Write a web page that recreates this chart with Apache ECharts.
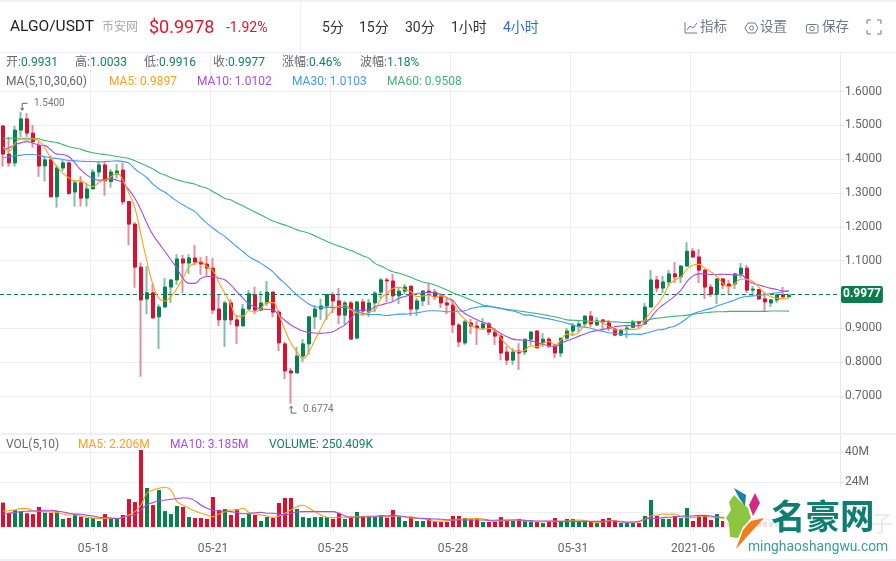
<!DOCTYPE html>
<html><head><meta charset="utf-8">
<script src="https://cdn.jsdelivr.net/npm/echarts@6/dist/echarts.min.js"></script>
<style>html,body{margin:0;padding:0;background:#fff}#c{width:896px;height:561px}</style></head>
<body><div id="c"></div>
<script>
const opens=[1.498,1.415,1.389,1.486,1.519,1.477,1.440,1.380,1.398,1.289,
1.374,1.389,1.303,1.330,1.285,1.312,1.362,1.383,1.334,1.356,
1.368,1.275,1.208,1.081,0.987,1.005,0.934,0.963,1.022,1.043,
1.105,1.093,1.108,1.096,1.090,1.078,0.957,0.925,0.975,0.925,
0.907,0.957,1.000,0.954,0.975,1.007,0.948,0.854,0.774,0.768,
0.818,0.854,0.934,0.957,0.966,1.000,0.981,0.939,0.975,0.871,
0.978,0.948,0.975,1.007,1.043,1.040,0.996,1.010,1.025,0.957,
0.981,1.010,1.007,0.996,0.975,0.969,0.910,0.857,0.916,0.907,
0.901,0.913,0.889,0.877,0.830,0.806,0.833,0.830,0.868,0.892,
0.857,0.868,0.848,0.827,0.871,0.892,0.907,0.913,0.936,0.910,
0.925,0.916,0.898,0.880,0.898,0.903,0.919,0.913,0.963,1.043,
1.019,1.037,1.061,1.052,1.084,1.128,1.111,1.072,1.022,1.001,
1.046,1.031,1.031,1.061,1.078,1.013,1.015,0.987,0.975,0.984,
0.999,0.9931];
const closes=[1.415,1.389,1.486,1.519,1.477,1.452,1.380,1.398,1.289,1.374,
1.389,1.299,1.330,1.285,1.312,1.362,1.383,1.336,1.362,1.365,
1.274,1.208,1.081,0.984,1.005,0.931,0.963,1.022,1.043,1.105,
1.093,1.108,1.096,1.090,1.078,0.954,0.925,0.975,0.925,0.907,
0.957,1.002,0.954,0.975,1.007,0.948,0.857,0.774,0.768,0.818,
0.854,0.934,0.957,0.966,1.000,0.981,0.939,0.975,0.868,0.978,
0.951,0.975,1.004,1.043,1.040,0.996,1.010,1.022,0.957,0.981,
1.010,1.007,0.995,0.975,0.969,0.910,0.860,0.919,0.907,0.901,
0.913,0.889,0.877,0.827,0.806,0.830,0.827,0.868,0.889,0.842,
0.868,0.848,0.827,0.871,0.892,0.907,0.913,0.936,0.913,0.922,
0.919,0.901,0.880,0.895,0.901,0.919,0.915,0.963,1.043,1.019,
1.037,1.061,1.052,1.084,1.128,1.111,1.072,1.022,1.001,1.046,
1.028,1.025,1.061,1.078,1.013,1.016,0.987,0.978,0.984,0.999,
0.993,0.9977];
const lows=[1.378,1.378,1.378,1.466,1.466,1.434,1.348,1.334,1.286,1.257,
1.365,1.294,1.260,1.260,1.260,1.312,1.348,1.292,1.316,1.343,
1.265,1.146,1.020,0.757,0.942,0.928,0.839,0.961,0.975,1.028,
1.005,1.061,1.087,1.058,1.055,0.942,0.907,0.845,0.910,0.854,
0.907,0.954,0.942,0.951,0.966,0.933,0.833,0.750,0.6774,0.768,
0.800,0.821,0.898,0.925,0.925,0.945,0.913,0.910,0.868,0.868,
0.939,0.933,0.948,0.987,0.978,0.981,0.972,1.001,0.936,0.936,
0.966,0.969,0.984,0.960,0.942,0.886,0.845,0.851,0.883,0.851,
0.898,0.880,0.851,0.806,0.792,0.792,0.777,0.821,0.851,0.842,
0.845,0.842,0.812,0.815,0.865,0.877,0.889,0.904,0.904,0.907,
0.895,0.892,0.877,0.877,0.871,0.901,0.901,0.910,0.960,1.007,
1.004,1.022,1.034,1.034,1.084,1.108,1.034,0.987,0.993,0.972,
1.016,1.001,1.016,1.049,1.004,0.996,0.984,0.951,0.963,0.975,
0.990,0.9916];
const highs=[1.501,1.466,1.498,1.540,1.536,1.501,1.452,1.407,1.410,1.383,
1.398,1.393,1.339,1.350,1.329,1.371,1.393,1.395,1.371,1.386,
1.390,1.276,1.214,1.095,1.084,1.031,0.971,1.049,1.046,1.119,
1.117,1.119,1.146,1.111,1.114,1.108,0.999,0.981,0.986,0.940,
0.972,1.013,1.023,1.010,1.040,1.010,0.954,0.860,0.783,0.845,
0.868,0.936,0.969,0.987,1.002,1.007,1.019,0.981,0.981,0.981,
0.987,0.987,1.010,1.049,1.049,1.061,1.022,1.031,1.025,0.990,
1.013,1.033,1.016,1.003,0.987,0.984,0.915,0.925,0.928,0.922,
0.930,0.919,0.901,0.883,0.848,0.842,0.856,0.868,0.892,0.895,
0.886,0.874,0.854,0.871,0.901,0.916,0.922,0.939,0.951,0.933,
0.925,0.925,0.901,0.898,0.907,0.925,0.922,0.975,1.072,1.055,
1.055,1.072,1.096,1.087,1.155,1.137,1.134,1.075,1.031,1.049,
1.049,1.043,1.064,1.093,1.087,1.025,1.015,1.007,0.987,0.999,
1.022,1.0033];
const ma5=[1.437,1.424,1.447,1.460,1.457,1.460,1.454,1.432,1.402,1.378,
1.358,1.345,1.336,1.336,1.326,1.319,1.332,1.338,1.348,1.358,
1.338,1.299,1.255,1.176,1.097,1.028,0.989,0.981,0.994,1.018,
1.048,1.082,1.092,1.097,1.082,1.070,1.035,1.003,0.969,0.936,
0.936,0.952,0.949,0.959,0.976,0.976,0.939,0.895,0.856,0.831,
0.811,0.831,0.866,0.900,0.933,0.954,0.966,0.969,0.954,0.946,
0.939,0.949,0.954,0.989,1.003,1.018,1.021,1.015,1.008,0.994,
0.996,0.998,0.991,0.996,0.992,0.974,0.944,0.927,0.910,0.900,
0.897,0.900,0.892,0.870,0.851,0.836,0.831,0.836,0.848,0.846,
0.856,0.861,0.851,0.865,0.883,0.880,0.890,0.910,0.920,0.920,
0.915,0.905,0.895,0.895,0.897,0.897,0.899,0.925,0.949,0.969,
0.994,1.028,1.043,1.053,1.074,1.087,1.089,1.077,1.067,1.053,
1.033,1.023,1.033,1.045,1.045,1.038,1.021,1.003,0.994,0.989,
0.987,0.9897];
const ma10=[1.429,1.434,1.442,1.449,1.452,1.447,1.442,1.440,1.427,1.415,
1.414,1.407,1.388,1.368,1.353,1.343,1.338,1.340,1.341,1.338,
1.329,1.309,1.284,1.250,1.210,1.176,1.151,1.127,1.102,1.077,
1.048,1.033,1.033,1.048,1.053,1.053,1.048,1.043,1.028,1.008,
0.989,0.972,0.964,0.957,0.956,0.954,0.939,0.923,0.910,0.900,
0.892,0.888,0.886,0.885,0.887,0.890,0.900,0.910,0.929,0.949,
0.954,0.954,0.964,0.969,0.974,0.979,0.989,0.994,0.999,1.003,
1.005,1.006,1.005,1.000,0.989,0.982,0.959,0.944,0.934,0.925,
0.918,0.910,0.895,0.885,0.875,0.868,0.866,0.865,0.863,0.858,
0.853,0.848,0.846,0.856,0.863,0.870,0.877,0.883,0.890,0.893,
0.897,0.900,0.905,0.907,0.908,0.908,0.908,0.915,0.932,0.954,
0.969,0.982,0.996,1.013,1.038,1.055,1.061,1.061,1.059,1.059,
1.060,1.059,1.058,1.058,1.043,1.033,1.028,1.023,1.018,1.015,
1.010,1.0102];
const ma30=[1.404,1.407,1.410,1.412,1.414,1.414,1.411,1.407,1.404,1.402,
1.399,1.396,1.395,1.394,1.393,1.393,1.392,1.393,1.394,1.395,
1.393,1.388,1.371,1.358,1.345,1.326,1.312,1.302,1.289,1.276,
1.265,1.255,1.245,1.227,1.210,1.196,1.183,1.171,1.156,1.141,
1.127,1.112,1.102,1.092,1.080,1.067,1.048,1.033,1.015,0.998,
0.984,0.972,0.964,0.962,0.962,0.962,0.962,0.962,0.956,0.951,
0.944,0.941,0.941,0.940,0.938,0.940,0.942,0.942,0.944,0.946,
0.949,0.952,0.952,0.951,0.949,0.949,0.951,0.952,0.959,0.962,
0.965,0.964,0.962,0.959,0.954,0.951,0.946,0.939,0.939,0.934,
0.931,0.928,0.924,0.920,0.915,0.910,0.905,0.903,0.900,0.895,
0.891,0.887,0.885,0.883,0.882,0.883,0.882,0.885,0.890,0.895,
0.897,0.902,0.907,0.917,0.930,0.942,0.949,0.954,0.959,0.966,
0.972,0.978,0.984,0.991,0.994,0.996,0.997,1.000,1.003,1.005,
1.008,1.0103];
const ma60=[1.462,1.462,1.462,1.462,1.462,1.462,1.460,1.455,1.452,1.449,
1.443,1.437,1.433,1.429,1.423,1.419,1.416,1.414,1.411,1.408,
1.405,1.402,1.395,1.387,1.380,1.371,1.360,1.353,1.345,1.339,
1.334,1.330,1.326,1.319,1.314,1.304,1.294,1.284,1.279,1.270,
1.262,1.253,1.244,1.235,1.226,1.217,1.211,1.205,1.199,1.191,
1.186,1.181,1.173,1.165,1.157,1.149,1.143,1.137,1.130,1.122,
1.114,1.107,1.092,1.084,1.075,1.067,1.063,1.057,1.051,1.043,
1.037,1.033,1.028,1.021,1.013,1.005,0.998,0.991,0.984,0.976,
0.969,0.966,0.962,0.959,0.956,0.954,0.951,0.949,0.946,0.944,
0.941,0.937,0.934,0.930,0.925,0.924,0.923,0.922,0.921,0.921,
0.921,0.920,0.919,0.918,0.917,0.918,0.920,0.922,0.927,0.930,
0.932,0.934,0.936,0.937,0.939,0.942,0.944,0.946,0.948,0.949,
0.949,0.950,0.950,0.950,0.950,0.950,0.950,0.950,0.951,0.951,
0.951,0.9508];
const volumes=[13.0,7.6,9.1,8.2,7.3,6.9,10.7,7.6,7.6,8.5,
4.3,4.8,6.9,5.5,4.8,4.8,3.2,6.9,4.8,4.4,
6.4,14.9,13.3,41.1,20.8,11.7,19.7,8.5,6.9,11.2,
10.7,5.3,4.8,4.8,4.3,16.0,9.1,9.6,6.4,9.6,
4.8,6.9,6.4,3.2,5.3,4.8,12.8,15.5,15.5,9.6,
5.3,4.8,5.3,5.3,5.3,4.3,7.5,4.3,5.0,8.0,
5.5,5.9,5.3,6.4,5.0,9.1,5.5,3.2,5.5,3.2,
3.2,4.3,3.2,2.7,2.7,5.9,5.9,4.8,4.1,4.1,
2.7,2.7,2.7,5.3,3.7,3.2,4.3,3.4,2.7,2.7,
2.1,2.7,4.8,2.7,4.3,4.3,3.2,2.7,2.7,2.1,
4.3,4.8,3.2,2.1,2.1,2.1,2.1,5.9,14.4,5.9,
4.3,4.3,5.9,4.8,10.1,3.2,5.9,5.9,3.7,6.9,
3.2,2.7,3.2,3.7,3.7,2.7,3.7,2.7,2.7,2.1,
2.7,0.25];
const volMa5=[8.5,8.7,9.1,9.8,9.8,8.7,8.4,8.2,8.2,7.8,
6.9,6.4,6.4,5.9,5.2,4.8,4.6,4.6,4.6,4.6,
5.2,6.4,8.2,11.7,18,19.7,20.6,21.2,19.7,13.5,
11.7,10,8.5,7.3,6.4,5.5,6.9,8.2,9.1,9.1,
10,7.8,6.9,6.4,5.9,5.2,5.9,7.3,9.1,10.8,
11.6,10,8.2,6.4,5.2,5,5.2,5.2,5.5,5.5,
5.7,5.7,5.9,5.9,5.7,5.9,5.7,5.3,4.8,4.6,
4.3,3.7,3,3.2,3.4,3.7,4.1,4.3,4.4,4.6,
4.3,3.6,3,3.4,3.4,3.7,3.6,3.2,3,2.8,
2.8,3,3,3,3.2,3.6,3.7,3.4,2.8,2.5,
2.8,3.4,3.4,3,2.7,2.5,2.8,4.1,5.9,6.4,
6.9,6.8,6.9,5.5,5.2,5,5.5,5.9,5.3,5.2,
4.6,4.3,4,3.8,3.5,3.3,3.3,3.3,3.2,3,
2.6,2.206];
const volMa10=[6.9,7.3,7.8,8.2,8.4,8.5,8.5,8.9,8.9,8.5,
8,7.3,6.9,6.8,6.2,5.9,5.2,5,4.8,4.4,
5.2,5.9,6.4,9.1,11.7,13,14,14.4,14.8,15.1,
15.6,15.3,14,11.7,10,8.9,8.5,8.4,8.2,7.6,
7.1,7.3,7.6,7.8,7.3,7.3,6.8,6.4,7.3,8,
8.2,8.2,8.2,8.2,8.2,8.2,7.3,5.9,5.2,5.2,
5.3,5.3,5.5,6,5.9,6.2,5.9,5.5,5.2,4.8,
4.6,4.4,4.3,4.1,3.9,3.7,3.7,3.7,3.7,3.7,
3.7,3.6,3.6,3.7,3.7,3.7,3.7,3.6,3.4,3.2,
3.2,3.2,3.2,3,3,3,3,3,3,3,
3,3.2,3.2,2.7,2.5,2.7,3,4.3,4.6,4.6,
5,5.2,5.5,5.7,5.9,5.9,6.2,6.2,5.9,5.3,
5.2,5.2,5.2,5.2,5,4.8,4.5,4.2,3.9,3.6,
3.4,3.185];
const tickLabels=['05-18','05-21','05-25','05-28','05-31','2021-06'];
const tickIndex=[15,35,55,75,95,115];
const priceTicks=[0.7,0.8,0.9,1.0,1.1,1.2,1.3,1.4,1.5,1.6];
const volTicks=[8,24,40];

const RED='#d9102f',GREEN='#07824f',PALE_RED='#e98a9b',PALE_GREEN='#7cc0a5';
const GRID='#eceef4',AXT='#666';
const FONT='Roboto,"Noto Sans CJK SC",sans-serif';
const categories=Array.from({length:140},(_,i)=>{const k=tickIndex.indexOf(i);return k>=0?tickLabels[k]:''+i;});
const isTick=i=>tickIndex.includes(i);
const candles=opens.map((o,i)=>[o,closes[i],lows[i],highs[i]]);
const bodies=opens.map((o,i)=>[o,closes[i],Math.min(o,closes[i]),Math.max(o,closes[i])]);
const vols=volumes.map((v,i)=>({value:v,itemStyle:{color:closes[i]>=opens[i]?GREEN:RED}}));

function T(x,y,text,size,color,extra){return {type:'text',z:50,x:x,y:y,style:Object.assign({text:text,fontSize:size,fill:color,fontFamily:FONT,verticalAlign:'middle',align:'left'},extra||{})};}
function L(pts,color,w){return {type:'polyline',z:50,shape:{points:pts},style:{stroke:color||'#70798a',fill:'none',lineWidth:w||1}};}
const LBL='#666',VAL='#13835c',ORG='#ff9f1a',PUR='#a84ce2',BLU='#3d9aff',GRN='#3fb573';
const gfx=[
 {type:'rect',z:1,shape:{x:0,y:0,width:896,height:2},style:{fill:'#eef0f5'}},
 {type:'rect',z:1,shape:{x:0,y:52,width:896,height:1},style:{fill:'#eceef4'}},
 {type:'rect',z:1,shape:{x:300,y:2,width:1,height:50},style:{fill:'#eef0f5'}},
 {type:'rect',z:1,shape:{x:0,y:433,width:896,height:2},style:{fill:'#eef0f5'}},
 {type:'rect',z:1,shape:{x:0,y:559,width:896,height:2},style:{fill:'#eef0f5'}},
 T(10,27,'ALGO/USDT',15.5,'#222'),
 T(102,28,'币安网',12,'#aaa'),
 T(149,28,'$0.9978',18,'#e0162f'),
 T(226,28,'-1.92%',14,'#e0162f'),
 T(322,28,'5分',14,'#333'),T(359,28,'15分',14,'#333'),T(405,28,'30分',14,'#333'),
 T(451,28,'1小时',14,'#333'),T(503,28,'4小时',14,'#2f6fe0'),
 L([[685,22],[685,33],[697,33]]),L([[687,30],[690,26],[693,28],[697,23]]),
 T(700,28,'指标',13.5,'#70798a'),
 {type:'polygon',z:50,shape:{points:[[748,23],[755,23],[758,28],[755,33],[748,33],[745,28]]},style:{stroke:'#70798a',fill:'none'}},
 {type:'circle',z:50,shape:{cx:751.5,cy:28,r:2},style:{stroke:'#70798a',fill:'none'}},
 T(760,28,'设置',13.5,'#70798a'),
 {type:'rect',z:50,shape:{x:806.5,y:24.5,width:11.5,height:8.5,r:1.5},style:{stroke:'#70798a',fill:'none'}},
 {type:'circle',z:50,shape:{cx:812,cy:28.5,r:2.3},style:{stroke:'#70798a',fill:'none'}},
 T(822,28,'保存',13.5,'#70798a'),
 L([[867,24],[867,20],[871,20]]),L([[877,20],[881,20],[881,24]]),L([[867,30],[867,34],[871,34]]),L([[877,34],[881,34],[881,30]]),
 T(6,63,'开:',12,LBL),T(21,63,'0.9931',12,VAL),
 T(75,63,'高:',12,LBL),T(90,63,'1.0033',12,VAL),
 T(144,63,'低:',12,LBL),T(159,63,'0.9916',12,VAL),
 T(213,63,'收:',12,LBL),T(228,63,'0.9977',12,VAL),
 T(282,63,'涨幅:',12,LBL),T(309,63,'0.46%',12,VAL),
 T(360,63,'波幅:',12,LBL),T(387,63,'1.18%',12,VAL),
 T(6,82,'MA(5,10,30,60)',12,LBL),
 T(109,82,'MA5: 0.9897',12,ORG),T(197,82,'MA10: 1.0102',12,PUR),
 T(292,82,'MA30: 1.0103',12,BLU),T(387,82,'MA60: 0.9508',12,GRN),
 T(6,445,'VOL(5,10)',12,LBL),T(78,445,'MA5: 2.206M',12,ORG),
 T(170,445,'MA10: 3.185M',12,PUR),T(269,445,'VOLUME: 250.409K',12,VAL),
 // watermark
 {type:'rect',z:90,shape:{x:724,y:487,width:172,height:72},style:{fill:'rgba(255,255,255,0.86)'}},
 {type:'text',z:90,x:871,y:523,style:{text:'子',fontSize:22,fill:'#e9e9e9',fontFamily:'"Noto Sans CJK SC"',verticalAlign:'middle'}},
 {type:'polygon',z:91,smooth:0.25,shape:{points:[[734,495],[729,502],[731,510],[726,518],[729,523],[730,537],[738,538],[743,527],[751,518],[748,508],[741,502]]},style:{fill:'#8cc63f'}},
 {type:'polygon',z:91,shape:{points:[[734,488],[746,495],[745,506],[739,498]]},style:{fill:'#1c7fa6'}},
 {type:'polygon',z:91,shape:{points:[[755,493],[760,503],[753,516],[749,505]]},style:{fill:'#d42a80'}},
 {type:'polygon',z:91,shape:{points:[[764,518],[753,530],[736,549],[743,530],[751,521]]},style:{fill:'#ee7d1c'}},
 {type:'text',z:91,x:771,y:516,style:{text:'名豪网',fontSize:34.5,fontWeight:'bold',fill:'#0e7d72',fontFamily:'"Noto Sans CJK SC"',verticalAlign:'middle'}},
 {type:'text',z:91,x:748,y:548,style:{text:'minghaoshangwu.com',fontSize:13.8,fill:'#3a9c92',fontFamily:'Roboto',verticalAlign:'middle'}}
];

function lineS(name,data,color,x,y){return {name:name,type:'line',data:data,xAxisIndex:x,yAxisIndex:y,smooth:true,showSymbol:false,silent:true,lineStyle:{color:color,width:1.1},z:5};}
const arrowUp='path://M0 0L0 8M-2.2 2.6L0 0L2.2 2.6M0 8L7 8';
const arrowDn='path://M7 0L0 0L0 8M-2.2 5.4L0 8L2.2 5.4';
const option={
 animation:false,backgroundColor:'#fff',
 textStyle:{fontFamily:FONT},
 graphic:gfx,
 grid:[{left:0,right:56,top:52,height:381},{left:0,right:56,top:435,height:100}],
 xAxis:[
  {type:'category',gridIndex:0,data:categories,boundaryGap:true,axisLine:{show:false},axisLabel:{show:false},
   axisTick:{show:false,alignWithLabel:true,interval:i=>isTick(i)},splitLine:{show:true,interval:i=>isTick(i),lineStyle:{color:GRID}}},
  {type:'category',gridIndex:1,data:categories,boundaryGap:true,axisLine:{show:true,lineStyle:{color:'#e6e8ee'}},
   axisLabel:{show:true,interval:i=>isTick(i),color:AXT,fontSize:12,margin:8,hideOverlap:false},
   axisTick:{show:true,alignWithLabel:true,length:4,interval:i=>isTick(i),lineStyle:{color:'#dfe2e8'}},
   splitLine:{show:true,interval:i=>isTick(i),lineStyle:{color:GRID}}}
 ],
 yAxis:[
  {type:'value',gridIndex:0,position:'right',min:0.5906,max:1.7168,scale:true,
   axisLine:{show:true,lineStyle:{color:'#e6e8ee'}},
   axisTick:{show:true,length:4,customValues:priceTicks,lineStyle:{color:'#dfe2e8'}},
   axisLabel:{show:true,customValues:priceTicks,color:AXT,fontSize:12,margin:5,formatter:v=>v.toFixed(4)},
   splitLine:{show:true,lineStyle:{color:GRID}}},
  {type:'value',gridIndex:1,position:'right',min:-4.27,max:49.07,
   axisLine:{show:true,lineStyle:{color:'#e6e8ee'}},
   axisTick:{show:true,length:4,customValues:volTicks,lineStyle:{color:'#dfe2e8'}},
   axisLabel:{show:true,customValues:volTicks,color:AXT,fontSize:12,margin:5,formatter:v=>v+'M'},
   splitLine:{show:true,lineStyle:{color:GRID}}}
 ],
 series:[
  {name:'wick',type:'candlestick',data:candles,xAxisIndex:0,yAxisIndex:0,barWidth:1,silent:true,z:2,
   itemStyle:{color:PALE_GREEN,color0:PALE_RED,borderColor:PALE_GREEN,borderColor0:PALE_RED,borderWidth:2}},
  {name:'body',type:'candlestick',data:bodies,xAxisIndex:0,yAxisIndex:0,barWidth:4,silent:true,z:3,
   itemStyle:{color:GREEN,color0:RED,borderColor:GREEN,borderColor0:RED,borderWidth:1},
   markLine:{silent:true,symbol:'none',animation:false,data:[{yAxis:0.9977}],
    lineStyle:{color:'#0a7d4f',type:[4,3],width:1},
    label:{position:'end',formatter:'0.9977',color:'#fff',fontWeight:'bold',fontSize:12,backgroundColor:'#0a7d4f',padding:[3,2,2,2],borderRadius:2,distance:1}},
   markPoint:{silent:true,animation:false,data:[
    {coord:[3,1.54],symbol:arrowDn,symbolSize:[7,7],symbolOffset:[3,-5],itemStyle:{color:'none',borderColor:'#666',borderWidth:1},
     label:{show:true,position:'right',distance:4,offset:[0,-3],formatter:'1.5400',color:'#777',fontSize:10}},
    {coord:[48,0.6774],symbol:arrowUp,symbolSize:[7,7],symbolOffset:[2,6],itemStyle:{color:'none',borderColor:'#666',borderWidth:1},
     label:{show:true,position:'right',distance:4,formatter:'0.6774',color:'#777',fontSize:10}}
   ]}},
  lineS('MA60',ma60,GRN,0,0),lineS('MA30',ma30,BLU,0,0),lineS('MA10',ma10,PUR,0,0),lineS('MA5',ma5,ORG,0,0),
  {name:'VOL',type:'bar',data:vols,xAxisIndex:1,yAxisIndex:1,barWidth:4,silent:true,z:3},
  lineS('VMA5',volMa5,ORG,1,1),lineS('VMA10',volMa10,PUR,1,1)
 ]
};
echarts.init(document.getElementById('c')).setOption(option);
</script></body></html>
